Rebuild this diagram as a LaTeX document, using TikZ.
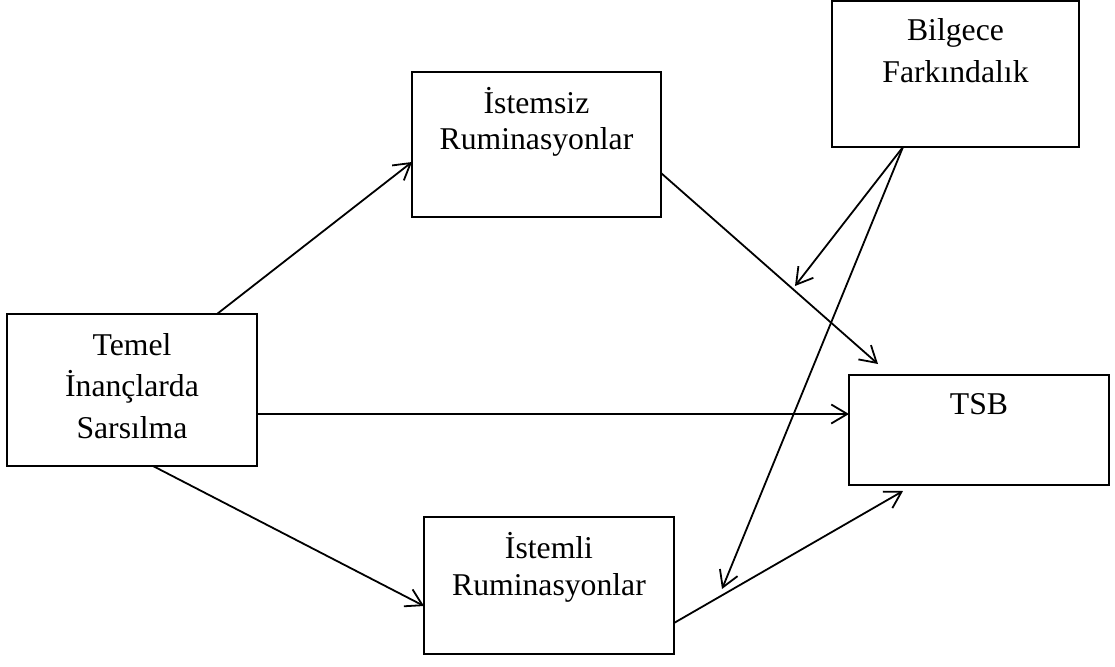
\documentclass[tikz,border=0pt]{standalone}
\usepackage{fontspec}
\setmainfont{Liberation Serif}
\usetikzlibrary{arrows.meta,calc}
\newcommand\mybox[5]{\parbox[c][#2][t]{#1}{\centering\fontsize{31.7}{#4}\selectfont\rule{0pt}{#3}#5}}
\begin{document}
\begin{tikzpicture}[x=1pt,y=-1pt,
  box/.style={draw, line width=2pt, inner sep=0pt, outer sep=0pt, anchor=north west},
  conn/.style={line width=1.8pt, -{Straight Barb[length=16pt,width=19pt]}}]
\useasboundingbox (0,0) rectangle (1115,666);
\node[box] (bilg) at (832,1) {\mybox{247pt}{146pt}{40pt}{41.7pt}{Bilgece\\Farkındalık}};
\node[box] (ist) at (412,72) {\mybox{249pt}{145pt}{41pt}{36.7pt}{İstemsiz\\Ruminasyonlar}};
\node[box] (temel) at (7,314) {\mybox{250pt}{152pt}{41pt}{41.7pt}{Temel\\İnançlarda\\Sarsılma}};
\node[box] (tsb) at (849,375) {\mybox{260pt}{110pt}{39pt}{41.7pt}{TSB}};
\node[box] (istl) at (424,517) {\mybox{250pt}{137pt}{41pt}{37pt}{İstemli\\Ruminasyonlar}};
\coordinate (m1) at (795,286);
\coordinate (m2) at (722,589);
\draw[conn] ($(temel.north west)+(210,0)$) -- ($(ist.north west)+(0,90)$);
\draw[conn] ($(ist.north east)+(0,101)$) -- ($(tsb.north west)+(29,-11)$);
\draw[conn] ($(temel.north east)+(0,100)$) -- ($(tsb.north west)+(0,39)$);
\draw[conn] ($(temel.south west)+(146,0)$) -- ($(istl.north west)+(0,89)$);
\draw[conn] ($(istl.north east)+(0,106)$) -- ($(tsb.south west)+(54,6)$);
\draw[conn] ($(bilg.south west)+(71,0)$) -- (m1);
\draw[conn] ($(bilg.south west)+(71,0)$) -- (m2);
\end{tikzpicture}
\end{document}
